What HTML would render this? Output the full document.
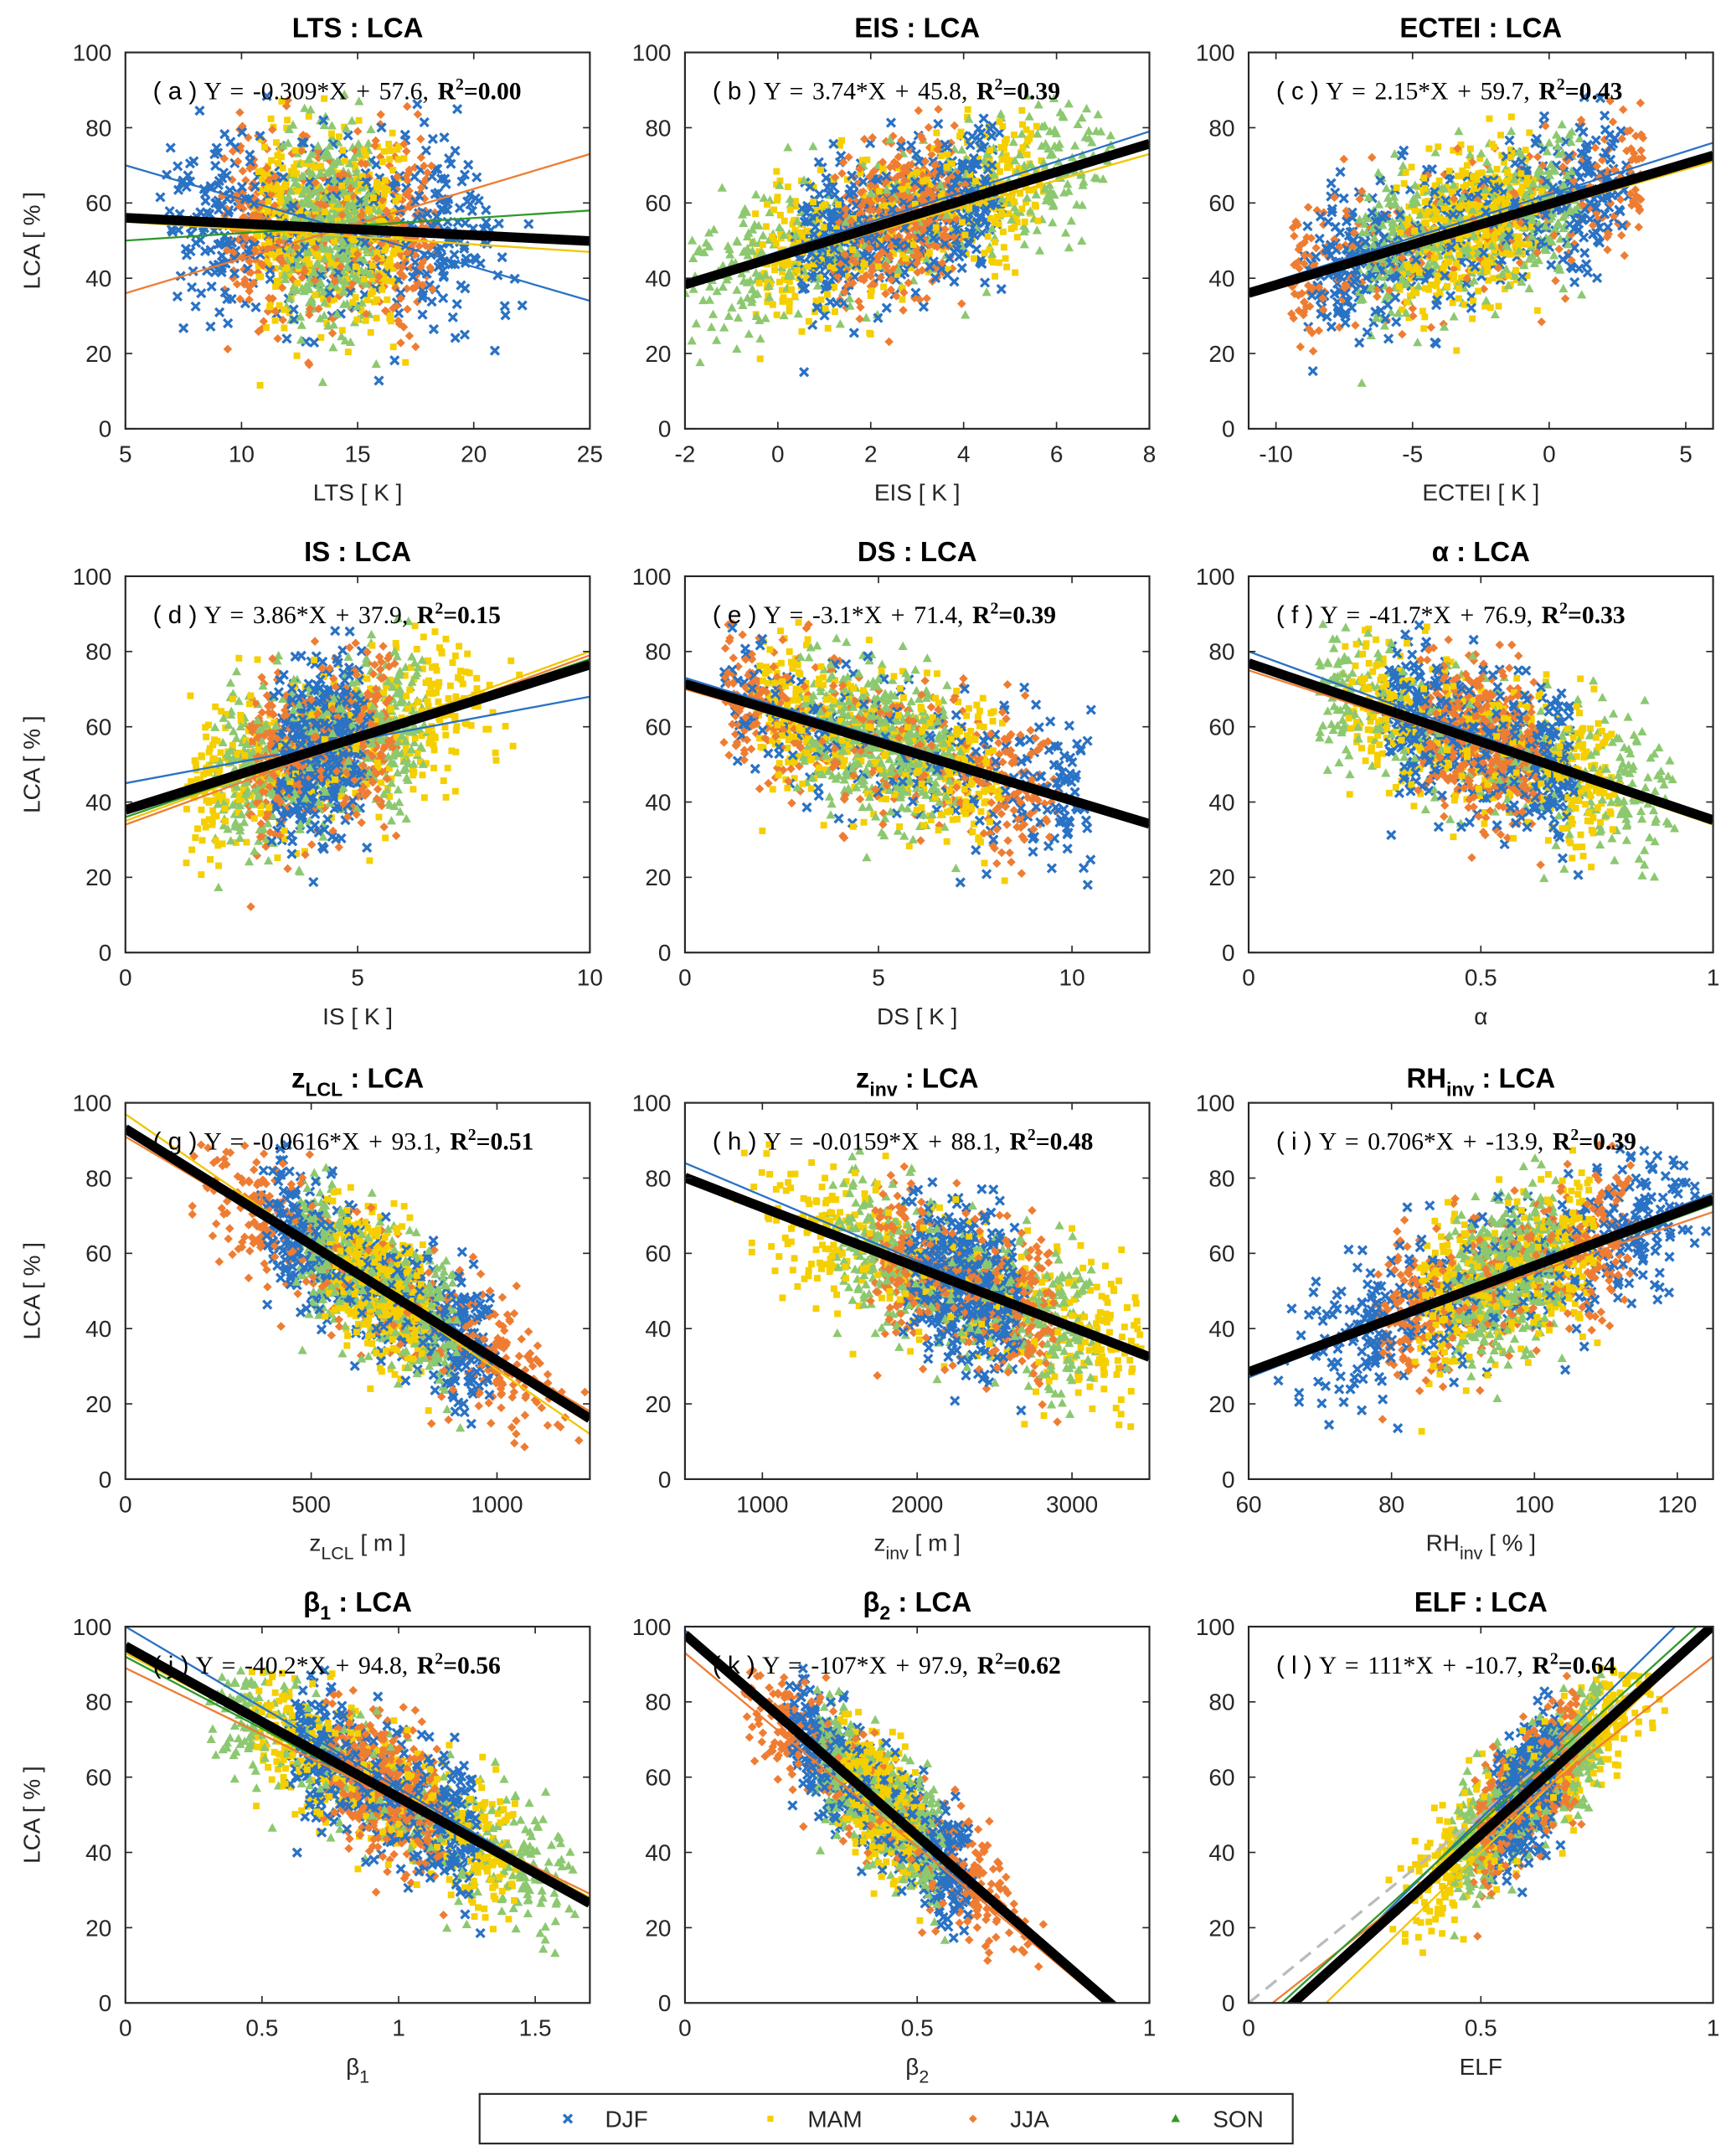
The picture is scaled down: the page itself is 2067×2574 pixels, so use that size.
<!DOCTYPE html>
<html><head><meta charset="utf-8"><style>
html,body{margin:0;padding:0;background:#fff}
svg{display:block}
.tk{font-family:"Liberation Sans",sans-serif;font-size:17px;fill:#262626}
.ttl{font-family:"Liberation Sans",sans-serif;font-size:20px;font-weight:bold;fill:#000}
.eq{font-family:"Liberation Serif",serif;font-size:18px;fill:#000}
</style></head><body>
<svg id="fig" width="2067" height="2574" viewBox="0 0 1256 1564" xmlns="http://www.w3.org/2000/svg"></svg>
<script>
const NS="http://www.w3.org/2000/svg";
// ---- data ----
const panelIds=["a","b","c","d","e","f","g","h","i","j","k","l"];
const panelTitles=["LTS : LCA","EIS : LCA","ECTEI : LCA","IS : LCA","DS : LCA","α : LCA","z_LCL : LCA","z_inv : LCA","RH_inv : LCA","β_1 : LCA","β_2 : LCA","ELF : LCA"];
const xLabels=["LTS [ K ]","EIS [ K ]","ECTEI [ K ]","IS [ K ]","DS [ K ]","α","z_LCL [ m ]","z_inv [ m ]","RH_inv [ % ]","β_1","β_2","ELF"];
const xDomains=[[5,25],[-2,8],[-11,6],[0,10],[0,12],[0,1],[0,1250],[500,3500],[60,125],[0,1.7],[0,1],[0,1]];
const xTicks=[[5,10,15,20,25],[-2,0,2,4,6,8],[-10,-5,0,5],[0,5,10],[0,5,10],[0,0.5,1],[0,500,1000],[1000,2000,3000],[60,80,100,120],[0,0.5,1,1.5],[0,0.5,1],[0,0.5,1]];
const slopes=[-0.309,3.74,2.15,3.86,-3.1,-41.7,-0.0616,-0.0159,0.706,-40.2,-107,111];
const intercepts=[57.6,45.8,59.7,37.9,71.4,76.9,93.1,88.1,-13.9,94.8,97.9,-10.7];
const r2=["0.00","0.39","0.43","0.15","0.39","0.33","0.51","0.48","0.39","0.56","0.62","0.64"];
const slopeText=["-0.309","3.74","2.15","3.86","-3.1","-41.7","-0.0616","-0.0159","0.706","-40.2","-107","111"];
const interceptText=["57.6","45.8","59.7","37.9","71.4","76.9","93.1","88.1","-13.9","94.8","97.9","-10.7"];
// season fit lines [DJF,MAM,JJA,SON] as [y at xmin, y at xmax]
const seasonLineEnds=[
 [[70,34],[55,47],[36,73],[50,58]],
 [[39,79],[38,73],[38,75],[38,76]],
 [[37,76],[36,71],[36,72],[36,73]],
 [[45,68],[35,80],[34,79],[36,78]],
 [[73,35],[71,34],[70,35],[71,34]],
 [[80,35],[76,34],[75,35],[77,35]],
 [[94,17],[97,12],[91,18],[93,17]],
 [[84,32],[81,32],[79,33],[80,32]],
 [[27,76],[29,74],[29,71],[28,73]],
 [[100,27],[93,28],[89,29],[92,27]],
 [[99,-8],[97,-10],[93,-10],[97,-9]],
 [[-12,110],[-20,100],[-5,92],[-8,104]]];
// scatter cloud description per panel: x centre, x spread, residual spread, x limits
const cloudXCenter=[13.8,2.6,-3,4.2,5,0.5,680,2300,96,0.95,0.42,0.6];
const cloudXSpread=[2.8,1.9,3.6,1.4,2.8,0.18,190,520,11,0.3,0.12,0.1];
const cloudYSpread=[13,10,10,11,10,10,9,10,10,9,8,8];
const cloudXMin=[6.5,-2,-9.5,1.3,1,0.15,180,800,64,0.3,0.12,0.3];
const cloudXMax=[22.5,7.2,3.5,9,10.5,0.92,1240,3450,124,1.65,0.78,0.9];
const seasons=["DJF","MAM","JJA","SON"];
const seasonColors=["#2a72c4","#f5cf00","#ee7d33","#72b84f"];
const lineColors=["#2a72c4","#f2c500","#ee7d33","#2f9a2a"];
const colX=[91,497,906],rowY=[38,418,800,1180],W=337,H=273;
const svg=document.getElementById("fig");
function el(t,a,p){const e=document.createElementNS(NS,t);for(const k in a)e.setAttribute(k,a[k]);(p||svg).appendChild(e);return e;}
function halton(i,b){let f=1,r=0;while(i>0){f/=b;r+=f*(i%b);i=Math.floor(i/b);}return r;}
function sub(parent,txt,x,y,cls,anchor,fs){
  const t=el("text",{x:x,y:y,class:cls,"text-anchor":anchor||"middle"},parent);
  const m=txt.match(/^(.*?)([zβRH]+)_(LCL|inv|1|2)(.*)$/);
  if(!m){t.textContent=txt;return t;}
  const s1=document.createElementNS(NS,"tspan");s1.textContent=m[1]+m[2];t.appendChild(s1);
  const s2=document.createElementNS(NS,"tspan");s2.setAttribute("dy","6");s2.setAttribute("font-size",(fs||13)+"px");s2.textContent=m[3];t.appendChild(s2);
  const s3=document.createElementNS(NS,"tspan");s3.setAttribute("dy","-6");s3.textContent=m[4];t.appendChild(s3);
  return t;
}
panelIds.forEach((id,p)=>{
  const ox=colX[p%3],oy=rowY[Math.floor(p/3)];
  const [x0,x1]=xDomains[p];
  const sx=v=>ox+(v-x0)/(x1-x0)*W, sy=v=>oy+H-(v/100)*H;
  const g=el("g",{});
  
  
  const cp=el("clipPath",{id:"cp"+p},g);el("rect",{x:ox,y:oy,width:W,height:H},cp);
  const pts=el("g",{"clip-path":"url(#cp"+p+")"},g);
  
  
  const N=1700;
  for(let i=1;i<=N;i++){
    const s=i%4;
    const u1=Math.max(halton(i+p*37,2),1e-4),u2=halton(i+p*37,3);
    const u3=Math.max(halton(i+p*37,5),1e-4),u4=halton(i+p*37,7);
    let x=cloudXCenter[p]+cloudXSpread[p]*Math.sqrt(-2*Math.log(u1))*Math.cos(2*Math.PI*u2);
    if(x<cloudXMin[p]||x>cloudXMax[p])continue;
    let y=slopes[p]*x+intercepts[p]+cloudYSpread[p]*Math.sqrt(-2*Math.log(u3))*Math.cos(2*Math.PI*u4);
    if(y<8||y>89)continue;
    const px=sx(x),py=sy(y),c=seasonColors[s];
    if(s===0){el("path",{d:`M${px-3},${py-3}L${px+3},${py+3}M${px-3},${py+3}L${px+3},${py-3}`,stroke:c,"stroke-width":2},pts);}
    else if(s===1){el("rect",{x:px-2.4,y:py-2.4,width:4.8,height:4.8,fill:c},pts);}
    else if(s===2){el("path",{d:`M${px},${py-3.2}L${px+3.2},${py}L${px},${py+3.2}L${px-3.2},${py}Z`,fill:c},pts);}
    else {el("path",{d:`M${px},${py-3.6}L${px+3.4},${py+2.6}L${px-3.4},${py+2.6}Z`,fill:"#8cc870"},pts);}
  }
  const lg=el("g",{"clip-path":"url(#cp"+p+")"},g);
  if(p===11){el("line",{x1:sx(0),y1:sy(0),x2:sx(1),y2:sy(100),stroke:"#bbb","stroke-width":2,"stroke-dasharray":"10,6"},lg);}
  seasonLineEnds[p].forEach((e,s)=>{const l=el("line",{x1:sx(x0),y1:sy(e[0]),x2:sx(x1),y2:sy(e[1]),stroke:lineColors[s],"stroke-width":1.4},lg);
    });
  const bl=el("line",{x1:sx(x0),y1:sy(slopes[p]*x0+intercepts[p]),x2:sx(x1),y2:sy(slopes[p]*x1+intercepts[p]),stroke:"#000","stroke-width":7},lg);
  
  el("rect",{x:ox,y:oy,width:W,height:H,fill:"none",stroke:"#262626","stroke-width":1.3},g);
  [0,20,40,60,80,100].forEach(v=>{const y=sy(v);el("line",{x1:ox,y1:y,x2:ox+5,y2:y,stroke:"#262626"},g);el("line",{x1:ox+W,y1:y,x2:ox+W-5,y2:y,stroke:"#262626"},g);
    const t=el("text",{x:ox-10,y:y+6,class:"tk","text-anchor":"end"},g);t.textContent=v;});
  xTicks[p].forEach(v=>{const x=sx(v);el("line",{x1:x,y1:oy+H,x2:x,y2:oy+H-5,stroke:"#262626"},g);el("line",{x1:x,y1:oy,x2:x,y2:oy+5,stroke:"#262626"},g);
    const t=el("text",{x:x,y:oy+H+24,class:"tk","text-anchor":"middle"},g);t.textContent=v;});
  const tt=sub(g,panelTitles[p],ox+W/2,oy-11,"ttl","middle",14);
  
  const xl=sub(g,xLabels[p],ox+W/2,oy+H+52,"tk","middle",13);
  
  if(p%3===0){const yl=el("text",{x:0,y:0,class:"tk","text-anchor":"middle",transform:`translate(${ox-62},${oy+H/2}) rotate(-90)`},g);yl.textContent="LCA [ % ]";
    }
  const eq=el("text",{x:ox+20,y:oy+34,class:"eq"},g);
  
  const a=document.createElementNS(NS,"tspan");a.setAttribute("font-family","Liberation Sans");a.setAttribute("font-size","18");a.textContent="( "+id+" )  ";eq.appendChild(a);
  const b=document.createElementNS(NS,"tspan");b.setAttribute("word-spacing","2");b.textContent="Y = "+slopeText[p]+"*X + "+interceptText[p]+", ";eq.appendChild(b);
  const c=document.createElementNS(NS,"tspan");c.setAttribute("font-weight","bold");c.textContent="R";eq.appendChild(c);
  const d=document.createElementNS(NS,"tspan");d.setAttribute("font-weight","bold");d.setAttribute("dy","-7");d.setAttribute("font-size","12");d.textContent="2";eq.appendChild(d);
  const e=document.createElementNS(NS,"tspan");e.setAttribute("font-weight","bold");e.setAttribute("dy","7");e.textContent="=0"+r2[p].slice(1);eq.appendChild(e);
});
// legend
const lg=el("g",{});

el("rect",{x:348,y:1519,width:590,height:36,fill:"#fff",stroke:"#262626","stroke-width":1.3},lg);
seasons.forEach((s,i)=>{const cx=412+i*147,cy=1537,c=seasonColors[i];
  const it=el("g",{},lg);
  if(i===0)el("path",{d:`M${cx-3},${cy-3}L${cx+3},${cy+3}M${cx-3},${cy+3}L${cx+3},${cy-3}`,stroke:c,"stroke-width":2},it);
  else if(i===1)el("rect",{x:cx-2.2,y:cy-2.2,width:4.4,height:4.4,fill:c},it);
  else if(i===2)el("path",{d:`M${cx},${cy-3}L${cx+3},${cy}L${cx},${cy+3}L${cx-3},${cy}Z`,fill:c},it);
  else el("path",{d:`M${cx},${cy-3.4}L${cx+3.2},${cy+2.4}L${cx-3.2},${cy+2.4}Z`,fill:"#2f9a2a"},it);
  const t=el("text",{x:cx+27,y:cy+6,class:"tk"},it);t.setAttribute("font-size","15");t.textContent=s;});
</script>
</body></html>
